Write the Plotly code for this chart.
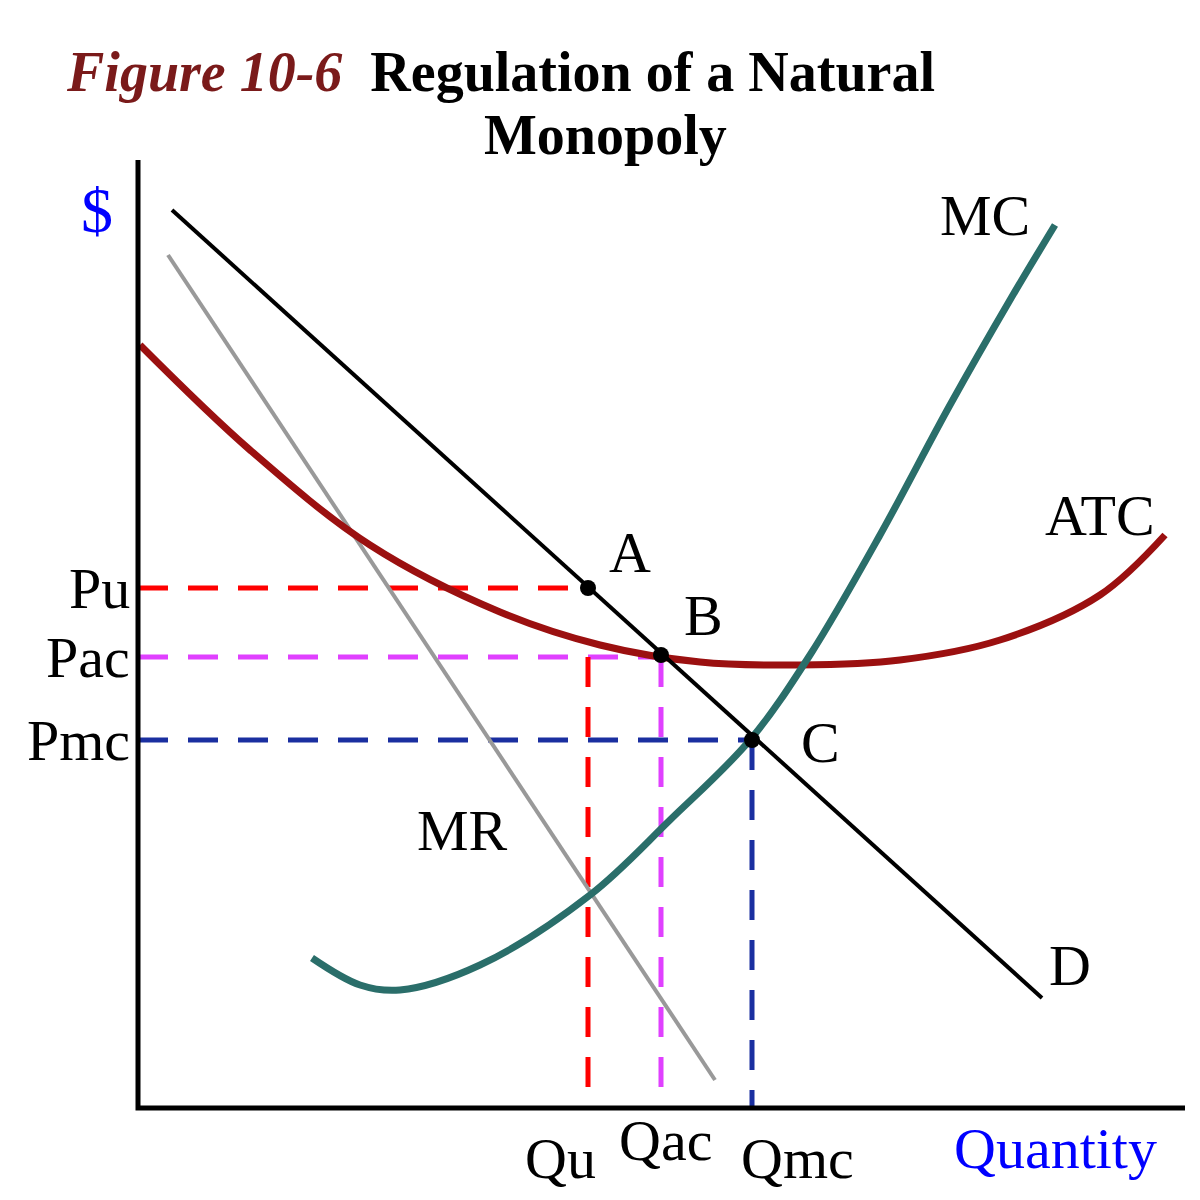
import plotly.graph_objects as go

OX, OY = 138, 1108
def X(p): return [v - OX for v in p]
def Y(p): return [OY - v for v in p]

# curves (read in image pixel coordinates, converted to data)
demand_x = [172, 1042]; demand_y = [210, 998]
mr_x = [168, 715]; mr_y = [255, 1080]
atc_x = [140, 250, 370, 500, 600, 700, 800, 900, 1000, 1100, 1165]
atc_y = [345, 450, 545, 612, 645, 662, 665, 660, 640, 595, 535]
mc_x = [312, 360, 400, 480, 590, 670, 750, 810, 880, 950, 1010, 1055]
mc_y = [958, 985, 990, 965, 895, 820, 740, 655, 535, 405, 300, 225]
price_levels = {"Pu": 588, "Pac": 657, "Pmc": 740}
qty_levels = {"Qu": 588, "Qac": 661, "Qmc": 752}
points = {"A": (588, 588), "B": (661, 655), "C": (752, 740)}

fig = go.Figure()
serif = "Liberation Serif"
dash_col = {"Pu": "red", "Pac": "#e040ff", "Pmc": "#1a2fa0"}
qcol = {"Qu": "red", "Qac": "#e040ff", "Qmc": "#1a2fa0"}
vtop = {"Qu": 657, "Qac": 657, "Qmc": 740}
pend = {"Pu": 588, "Pac": 661, "Pmc": 752}
for k, py in price_levels.items():
    fig.add_trace(go.Scatter(x=X([OX, pend[k]]), y=Y([py, py]), mode="lines",
                             line=dict(color=dash_col[k], width=5, dash="30px,20px")))
for k, qx in qty_levels.items():
    fig.add_trace(go.Scatter(x=X([qx, qx]), y=Y([vtop[k], OY]), mode="lines",
                             line=dict(color=qcol[k], width=5, dash="30px,20px")))
fig.add_trace(go.Scatter(x=X(mr_x), y=Y(mr_y), mode="lines", line=dict(color="#999999", width=4)))
fig.add_trace(go.Scatter(x=X(atc_x), y=Y(atc_y), mode="lines", line=dict(color="#9b1010", width=7, shape="spline")))
fig.add_trace(go.Scatter(x=X(demand_x), y=Y(demand_y), mode="lines", line=dict(color="black", width=4)))
fig.add_trace(go.Scatter(x=X(mc_x), y=Y(mc_y), mode="lines", line=dict(color="#2a6e6a", width=7, shape="spline")))
fig.add_trace(go.Scatter(x=X([p[0] for p in points.values()]), y=Y([p[1] for p in points.values()]),
                         mode="markers", marker=dict(color="black", size=16)))
# axes
fig.add_trace(go.Scatter(x=[0, 0, 1185 - OX], y=[OY - 160, 0, 0], mode="lines", line=dict(color="black", width=5)))

def ann(t, px, py, size=58, color="black", **kw):
    fig.add_annotation(x=px - OX, y=OY - py, text=t, showarrow=False,
                       font=dict(family=serif, size=size, color=color), **kw)

for k, py in price_levels.items():
    ann(k, 132, py, xanchor="right")
ann("Qu", 560, 1158); ann("Qac", 665, 1140); ann("Qmc", 797, 1158)
ann("Quantity", 1055, 1148, color="blue")
ann("$", 97, 210, size=64, color="blue")
ann("MC", 985, 215); ann("ATC", 1100, 515); ann("MR", 462, 830); ann("D", 1070, 965)
ann("A", 630, 552); ann("B", 703, 615); ann("C", 820, 742)
ann("<b><i><span style='color:#7a1a1a'>Figure 10-6</span></i>  Regulation of a Natural</b>", 500, 72, size=56)
ann("<b>Monopoly</b>", 605, 135, size=56)

W = 1184
fig.update_layout(width=W, height=W, margin=dict(l=0, r=0, t=0, b=0), showlegend=False,
                  plot_bgcolor="white", paper_bgcolor="white",
                  xaxis=dict(range=[8 - OX, 8 + W - OX], visible=False),
                  yaxis=dict(range=[OY - 8 - W, OY - 8], visible=False))
fig.write_html("out.html")
